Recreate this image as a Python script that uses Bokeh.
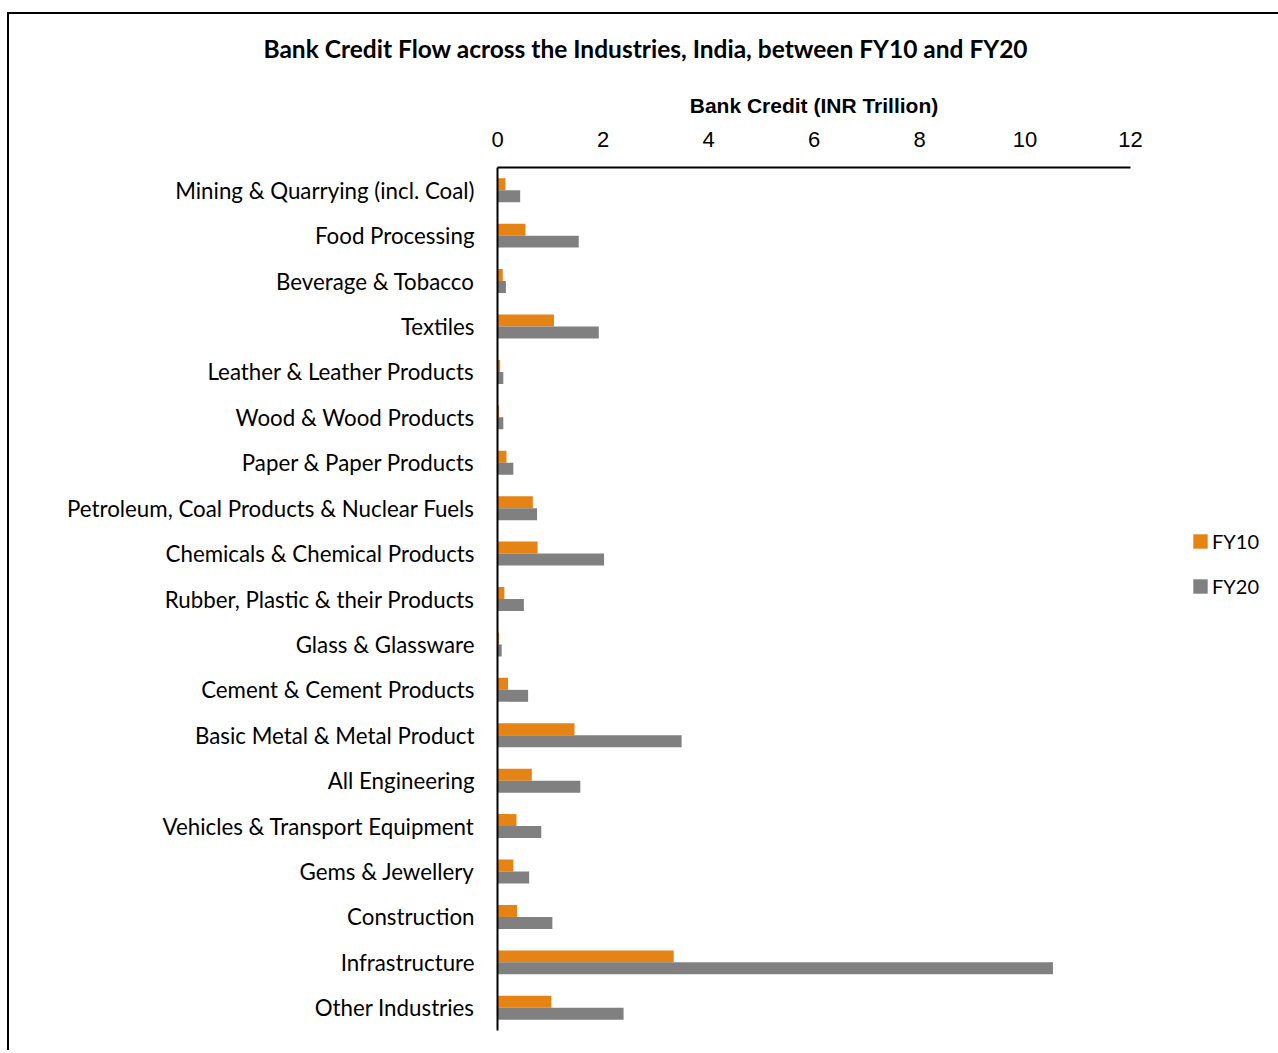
from bokeh.plotting import figure
from bokeh.models import ColumnDataSource, FactorRange, Range1d, Legend, LegendItem, FixedTicker
from bokeh.transform import dodge
from bokeh.embed import file_html
from bokeh.resources import INLINE

industries = [
    "Mining & Quarrying (incl. Coal)",
    "Food Processing",
    "Beverage & Tobacco",
    "Textiles",
    "Leather & Leather Products",
    "Wood & Wood Products",
    "Paper & Paper Products",
    "Petroleum, Coal Products & Nuclear Fuels",
    "Chemicals & Chemical Products",
    "Rubber, Plastic & their Products",
    "Glass & Glassware",
    "Cement & Cement Products",
    "Basic Metal & Metal Product",
    "All Engineering",
    "Vehicles & Transport Equipment",
    "Gems & Jewellery",
    "Construction",
    "Infrastructure",
    "Other Industries",
]
fy10 = [0.15, 0.53, 0.10, 1.07, 0.05, 0.03, 0.17, 0.67, 0.76, 0.13, 0.03, 0.20,
        1.46, 0.65, 0.36, 0.30, 0.37, 3.34, 1.02]
fy20 = [0.43, 1.54, 0.16, 1.92, 0.11, 0.11, 0.30, 0.75, 2.02, 0.50, 0.08, 0.58,
        3.49, 1.57, 0.83, 0.60, 1.04, 10.53, 2.39]
x_ticks = [0, 2, 4, 6, 8, 10, 12]

src = ColumnDataSource(dict(ind=industries, fy10=fy10, fy20=fy20))

p = figure(
    frame_width=633, frame_height=863,
    y_range=FactorRange(*reversed(industries)),
    x_range=Range1d(0, 12),
    x_axis_location="above",
    output_backend="svg", toolbar_location=None,
    min_border_left=497, min_border_top=167, min_border_right=140, min_border_bottom=20,
)
p.border_fill_color = None
p.styles = {
    "background-color": "white",
    "background-image": "linear-gradient(#000, #000), linear-gradient(#000, #000)",
    "background-size": "100% 2px, 2px 100%",
    "background-position": "7px 12px, 7px 12px",
    "background-repeat": "no-repeat",
}

r1 = p.hbar(y=dodge("ind", 0.132, range=p.y_range), left=0, right="fy10", height=0.264,
            source=src, fill_color="#E58315", line_color=None)
r2 = p.hbar(y=dodge("ind", -0.132, range=p.y_range), left=0, right="fy20", height=0.264,
            source=src, fill_color="#808080", line_color=None)

p.title.text = "Bank Credit Flow across the Industries, India, between FY10 and FY20"
p.title.text_font = "Lato"
p.title.text_font_size = "24.5px"
p.title.text_font_style = "bold"
p.title.text_color = "black"
p.title.align = "left"
p.title.vertical_align = "top"
p.title.offset = -234
p.title.standoff = 52

xa = p.xaxis[0]
xa.ticker = FixedTicker(ticks=x_ticks)
xa.axis_label = "Bank Credit (INR Trillion)"
xa.axis_label_text_font = "Liberation Sans"
xa.axis_label_text_font_style = "bold"
xa.axis_label_text_font_size = "21px"
xa.axis_label_text_color = "black"
xa.axis_label_standoff = 12
xa.major_label_text_font = "Liberation Sans"
xa.major_label_text_font_size = "22px"
xa.major_label_text_color = "black"
xa.major_label_standoff = 15
xa.major_tick_line_color = None
xa.minor_tick_line_color = None
xa.axis_line_color = "black"
xa.axis_line_width = 2

ya = p.yaxis[0]
ya.major_label_text_font = "Lato"
ya.major_label_text_font_size = "22.3px"
ya.major_label_text_color = "black"
ya.major_label_standoff = 17
ya.major_tick_line_color = None
ya.minor_tick_line_color = None
ya.axis_line_color = "black"
ya.axis_line_width = 2

p.xgrid.visible = False
p.ygrid.visible = False
p.outline_line_color = None

legend = Legend(items=[LegendItem(label="FY10", renderers=[r1]),
                       LegendItem(label="FY20", renderers=[r2])])
legend.location = (61, 432)
legend.margin = 0
legend.padding = 8
legend.glyph_width = 18
legend.glyph_height = 18
legend.label_standoff = 3
legend.spacing = 21
legend.label_text_font = "Lato"
legend.label_text_font_size = "20px"
legend.label_text_color = "black"
legend.border_line_color = None
legend.background_fill_alpha = 0
p.add_layout(legend, "right")

open("out.html", "w").write(file_html(p, INLINE))
